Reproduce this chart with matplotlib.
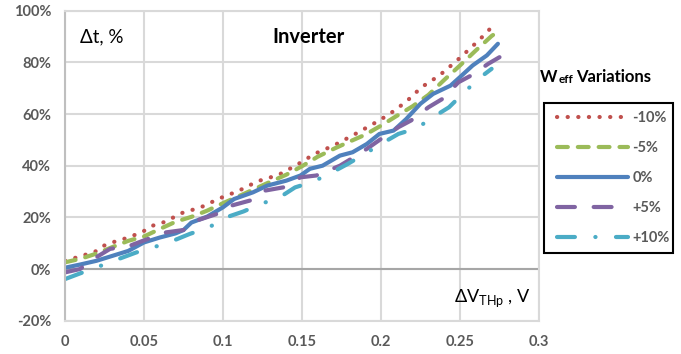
import matplotlib
matplotlib.use('Agg')
import matplotlib.pyplot as plt
from matplotlib.patches import Rectangle
from matplotlib.ticker import FuncFormatter, MultipleLocator

plt.rcParams['font.family'] = ['Lato', 'DejaVu Sans']
plt.rcParams['mathtext.fontset'] = 'custom'
plt.rcParams['mathtext.rm'] = 'Lato'
plt.rcParams['mathtext.bf'] = 'Lato:bold'

# delay change (%) vs. threshold shift dVthp (V), one curve per Weff variation
x_m10 = [0, 0.0063, 0.0127, 0.019, 0.024, 0.031, 0.037, 0.043, 0.0496, 0.0555, 0.061,
         0.0675, 0.073, 0.086, 0.098, 0.110, 0.122, 0.135, 0.141, 0.147, 0.158, 0.170,
         0.182, 0.194, 0.205, 0.216, 0.2257, 0.2369, 0.2473, 0.257, 0.2669, 0.2715]
y_m10 = [3.2, 4.3, 5.5, 6.7, 8.9, 10.5, 11.6, 12.9, 14.6, 16.8, 17.7,
         19.6, 21.5, 23.9, 27.4, 30.3, 34.0, 36.4, 38.4, 40.4, 44.6, 47.8,
         51.7, 55.8, 59.8, 64.8, 70.4, 74.9, 80.3, 85.7, 91.5, 94.8]

x_m5 = [0, 0.01, 0.02, 0.03, 0.04, 0.05, 0.06, 0.07, 0.08, 0.09, 0.10, 0.11, 0.12,
        0.13, 0.14, 0.15, 0.16, 0.17, 0.18, 0.19, 0.20, 0.21, 0.22, 0.23, 0.24,
        0.25, 0.26, 0.27, 0.273]
y_m5 = [2.6, 4.0, 6.0, 8.5, 10.9, 12.6, 15.5, 18.3, 20.2, 22.6, 25.5, 28.2, 31.0,
        33.8, 36.5, 39.8, 43.5, 46.5, 49.3, 52.0, 55.5, 59.3, 63.0, 67.4, 73.2,
        78.8, 84.6, 90.2, 91.5]

x_0 = [0, 0.01, 0.02, 0.03, 0.04, 0.05, 0.06, 0.07, 0.075, 0.08, 0.09, 0.10, 0.107,
       0.119, 0.128, 0.14, 0.149, 0.155, 0.163, 0.174, 0.182, 0.191, 0.199, 0.208,
       0.216, 0.225, 0.233, 0.244, 0.25, 0.258, 0.267, 0.274]
y_0 = [0.5, 1.8, 3.2, 5.1, 7.0, 10.3, 12.2, 13.8, 15.1, 18.0, 20.3, 23.9, 27.1,
       29.7, 32.3, 34.2, 36.2, 38.8, 40.0, 43.9, 45.2, 48.4, 52.3, 53.6,
       58.1, 64.0, 67.8, 71.0, 74.3, 78.8, 82.7, 87.2]

x_p5 = [0, 0.0095, 0.018, 0.0285, 0.041, 0.0496, 0.064, 0.075, 0.083, 0.096, 0.105,
        0.117, 0.126, 0.138, 0.149, 0.159, 0.174, 0.181, 0.191, 0.2015, 0.211, 0.219,
        0.230, 0.239, 0.249, 0.257, 0.268, 0.275]
y_p5 = [-1.3, 0.0, 3.9, 7.8, 9.0, 11.0, 14.2, 15.1, 18.7, 21.3, 24.5,
        26.5, 30.3, 31.6, 35.5, 36.2, 40.0, 42.6, 46.5, 51.0, 54.9, 57.5,
        62.6, 65.9, 72.3, 74.9, 79.5, 82.0]

x_p10 = [0, 0.0095, 0.0215, 0.034, 0.045, 0.056, 0.0686, 0.079, 0.091, 0.102, 0.113,
         0.124, 0.136, 0.1456, 0.157, 0.169, 0.179, 0.189, 0.2, 0.211, 0.2226, 0.233,
         0.243, 0.2517, 0.2616, 0.270]
y_p10 = [-3.9, -1.7, 1.0, 3.9, 6.4, 8.4, 11.0, 13.6, 16.1, 20.0, 22.3,
         25.2, 27.8, 31.6, 33.8, 37.4, 40.7, 44.3, 48.4, 52.3, 54.5, 58.8,
         62.6, 67.8, 73.6, 77.5]

labels = ['-10%', '-5%', '0%', '+5%', '+10%']
colors = ['#C0504D', '#9BBB59', '#4F81BD', '#8064A2', '#4BACC6']
styles = [(0, (0.05, 2.5)), (0, (2.6, 2.4)), '-', (0, (4.3, 4.5)),
          (0, (4.3, 4.9, 0.05, 4.9))]

W, H = 681, 354
fig = plt.figure(figsize=(W / 100, H / 100), dpi=100)
ax = fig.add_axes([65 / W, 1 - 320.7 / H, 474 / W, 310 / H])

series = [(x_m10, y_m10), (x_m5, y_m5), (x_0, y_0), (x_p5, y_p5), (x_p10, y_p10)]
for (xs, ys), lab, c, ls in zip(series, labels, colors, styles):
    ax.plot(xs, ys, color=c, lw=3.0, linestyle=ls, label=lab,
            dash_capstyle='round', solid_capstyle='round', dash_joinstyle='round')

ax.set_xlim(0, 0.3)
ax.set_ylim(-20, 100)
ax.xaxis.set_major_locator(MultipleLocator(0.05))
ax.yaxis.set_major_locator(MultipleLocator(20))
ax.xaxis.set_major_formatter(FuncFormatter(lambda v, p: '0' if abs(v) < 1e-9 else f'{v:g}'))
ax.yaxis.set_major_formatter(FuncFormatter(lambda v, p: f'{v:.0f}%'))
ax.grid(True, color='#D9D9D9', lw=1.5)
ax.set_axisbelow(True)
ax.axhline(0, color='#A6A6A6', lw=1.5, zorder=1)
for s in ax.spines.values():
    s.set_color('#D9D9D9')
    s.set_linewidth(1.5)
ax.spines['left'].set_color('#BFBFBF')
ax.tick_params(length=0, labelsize=10.5, labelcolor='#595959')
ax.tick_params(axis='x', pad=10)
ax.tick_params(axis='y', pad=10)
for t in ax.get_xticklabels() + ax.get_yticklabels():
    t.set_fontweight('bold')

fig.text(80 / W, 1 - 37 / H, 'Δt, %', fontsize=13.5, va='center', ha='left')
fig.text(308 / W, 1 - 37 / H, 'Inverter', fontsize=14.5, fontweight='bold',
         va='center', ha='center')
fig.text(531 / W, 1 - 298 / H, r'ΔV$_{\mathrm{THp}}$ , V', fontsize=13,
         va='center', ha='right')

# legend title: small "eff" sitting on the baseline after "W"
w_txt = fig.text(540 / W, 1 - 85 / H, 'W', fontsize=12, fontweight='bold',
                 va='bottom', ha='left')
eff_txt = fig.text(0, 0, 'eff', fontsize=8.5, fontweight='bold', va='bottom', ha='left')
fig.canvas.draw()
r = fig.canvas.get_renderer()
wb = w_txt.get_window_extent(r)
eff_txt.set_position((wb.x1 / fig.bbox.width + 0.001, w_txt.get_position()[1]))
eb = eff_txt.get_window_extent(r)
fig.text(eb.x1 / fig.bbox.width + 0.004, w_txt.get_position()[1], 'Variations',
         fontsize=12, fontweight='bold', va='bottom', ha='left')

# legend entries without a frame; the box is drawn separately
leg = fig.legend(loc='upper left', bbox_to_anchor=(557 / W, 1 - 111 / H),
                 frameon=False, handlelength=4.9, handletextpad=0.28,
                 labelspacing=1.1, borderpad=0, borderaxespad=0,
                 prop={'weight': 'bold', 'size': 10.5})
for t in leg.get_texts():
    t.set_color('#595959')
fig.patches.append(Rectangle((544 / W, 1 - 253 / H), 129 / W, 150 / H,
                             transform=fig.transFigure, fill=False,
                             edgecolor='black', lw=1.5))

fig.savefig('out.png', dpi=100)
